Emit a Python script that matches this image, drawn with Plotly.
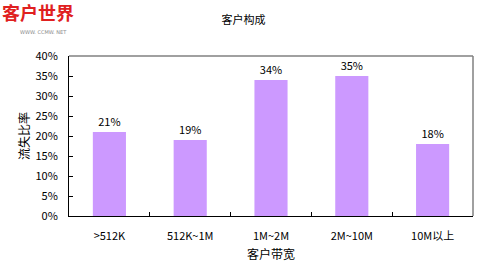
import plotly.graph_objects as go

categories = [">512K", "512K~1M", "1M~2M", "2M~10M", "10M以上"]
values = [21, 19, 34, 35, 18]
labels = ["21%", "19%", "34%", "35%", "18%"]
y_ticks = [0, 5, 10, 15, 20, 25, 30, 35, 40]
y_ticklabels = [f"{v}%" for v in y_ticks]

font_family = "Noto Sans CJK SC, DejaVu Sans, sans-serif"

fig = go.Figure(go.Bar(
    x=categories, y=values, text=labels, textposition="outside",
    marker=dict(color="#CC99FF", line=dict(width=0)),
    width=0.41, cliponaxis=False,
    textfont=dict(size=11, color="black", family=font_family),
))

fig.update_layout(
    width=487, height=280,
    margin=dict(l=69, r=14, t=56, b=64),
    paper_bgcolor="white", plot_bgcolor="white",
    showlegend=False,
    font=dict(family=font_family, size=11, color="black"),
    title=dict(text="客户构成", x=0.5, xanchor="center", y=1 - 20/280, yanchor="middle",
               font=dict(size=11, color="black", family=font_family)),
    xaxis=dict(
        type="category", showline=True, linecolor="black", linewidth=1,
        ticks="inside", ticklen=4, tickcolor="black", tickson="boundaries",
        showgrid=False, tickfont=dict(size=11), ticklabelstandoff=10,
        title=dict(text="客户带宽", font=dict(size=12), standoff=8),
    ),
    yaxis=dict(
        range=[0, 40], tickvals=y_ticks, ticktext=y_ticklabels,
        showline=True, linecolor="black", linewidth=1,
        ticks="inside", ticklen=4, tickcolor="black",
        showgrid=False, zeroline=False, tickfont=dict(size=11), ticklabelstandoff=8,
        title=dict(text="流失比率", font=dict(size=12), standoff=3),
    ),
    shapes=[
        dict(type="line", xref="paper", yref="paper", x0=0, x1=1, y0=1, y1=1,
             line=dict(color="#808080", width=1.5)),
        dict(type="line", xref="paper", yref="paper", x0=1, x1=1, y0=0, y1=1,
             line=dict(color="#808080", width=1.5)),
    ],
    annotations=[
        dict(text="<b>客户世界</b>", xref="paper", yref="paper",
             x=-68/405, y=1 + 58/160, xanchor="left", yanchor="top", showarrow=False,
             borderpad=0,
             font=dict(size=18, color="#E02020", family=font_family)),
        dict(text="WWW. CCMW. NET", xref="paper", yref="paper",
             x=-50/405, y=1 + 28/160, xanchor="left", yanchor="top", showarrow=False,
             borderpad=0,
             font=dict(size=5, color="#888888", family="DejaVu Sans")),
    ],
)

fig.write_html("out.html")
